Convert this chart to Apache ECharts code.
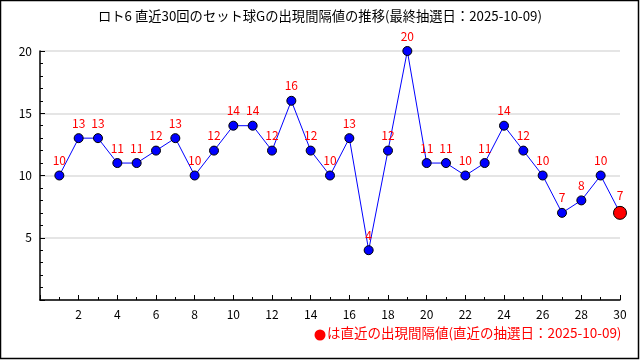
<!DOCTYPE html>
<html><head><meta charset="utf-8">
<script src="https://cdn.jsdelivr.net/npm/echarts@6/dist/echarts.min.js"></script>
<style>html,body{margin:0;padding:0;background:#fff}#c{width:640px;height:360px}</style>
</head><body><div id="c"></div>
<script>
const titleText = 'ロト6 直近30回のセット球Gの出現間隔値の推移(最終抽選日：2025-10-09)';
const legendText = 'は直近の出現間隔値(直近の抽選日：2025-10-09)';
const draws = [1,2,3,4,5,6,7,8,9,10,11,12,13,14,15,16,17,18,19,20,21,22,23,24,25,26,27,28,29,30];
const intervals = [10,13,13,11,11,12,13,10,12,14,14,12,16,12,10,13,4,12,20,11,11,10,11,14,12,10,7,8,10,7];
const yTicks = [0,5,10,15,20];

const font = '"Noto Sans CJK JP", "DejaVu Sans", sans-serif';
const data = draws.map((d,i)=>{
  const last = i === draws.length-1;
  return {
    value:[d, intervals[i]],
    symbolSize: last ? 13 : 9,
    itemStyle: last ? {color:'#ff0000', borderColor:'#000', borderWidth:1} : undefined
  };
});
const chart = echarts.init(document.getElementById('c'));
chart.setOption({
  animation:false,
  backgroundColor:'#fff',
  title:{text:titleText, left:'center', top:4, textStyle:{fontFamily:font, fontSize:13.3, fontWeight:'normal', color:'#000'}},
  grid:{left:40, right:20, top:51, bottom:60},
  xAxis:{type:'value', min:0, max:30, interval:2,
    axisLine:{lineStyle:{color:'#000', width:1.5}},
    axisTick:{inside:true, length:5, lineStyle:{color:'#000'}},
    minorTick:{show:true, splitNumber:2, length:3, lineStyle:{color:'#000'}},
    splitLine:{show:false},
    axisLabel:{color:'#000', fontSize:12, fontFamily:font, margin:8, formatter:v=> v===0?'':String(v)}
  },
  yAxis:{type:'value', min:yTicks[0], max:yTicks[yTicks.length-1], interval:5,
    axisLine:{show:true, lineStyle:{color:'#000', width:1.5}},
    axisTick:{show:true, inside:true, length:5, lineStyle:{color:'#000'}},
    minorTick:{show:true, splitNumber:5, length:3, lineStyle:{color:'#000'}},
    splitLine:{show:true, lineStyle:{color:'#dddddd', width:1.5}},
    axisLabel:{color:'#000', fontSize:12, fontFamily:font, margin:8, formatter:v=> v===0?'':String(v)}
  },
  series:[{
    type:'line', data:data, symbol:'circle', symbolSize:9,
    lineStyle:{color:'#0000ff', width:1},
    itemStyle:{color:'#0000ff', borderColor:'#000', borderWidth:1},
    label:{show:true, position:'top', distance:4, color:'#ff0000', fontSize:12, fontFamily:font, formatter:p=>String(p.value[1])},
    z:3
  }],
  graphic:[
    {type:'rect', shape:{x:0.5, y:0.5, width:638, height:358}, style:{fill:'none', stroke:'#000', lineWidth:1.5}, silent:true},
    {type:'circle', shape:{cx:320, cy:335, r:5.5}, style:{fill:'#ff0000'}},
    {type:'text', left:327, top:326, style:{text:legendText, fill:'#ff0000', font:'13.5px '+font}}
  ]
});
</script></body></html>
